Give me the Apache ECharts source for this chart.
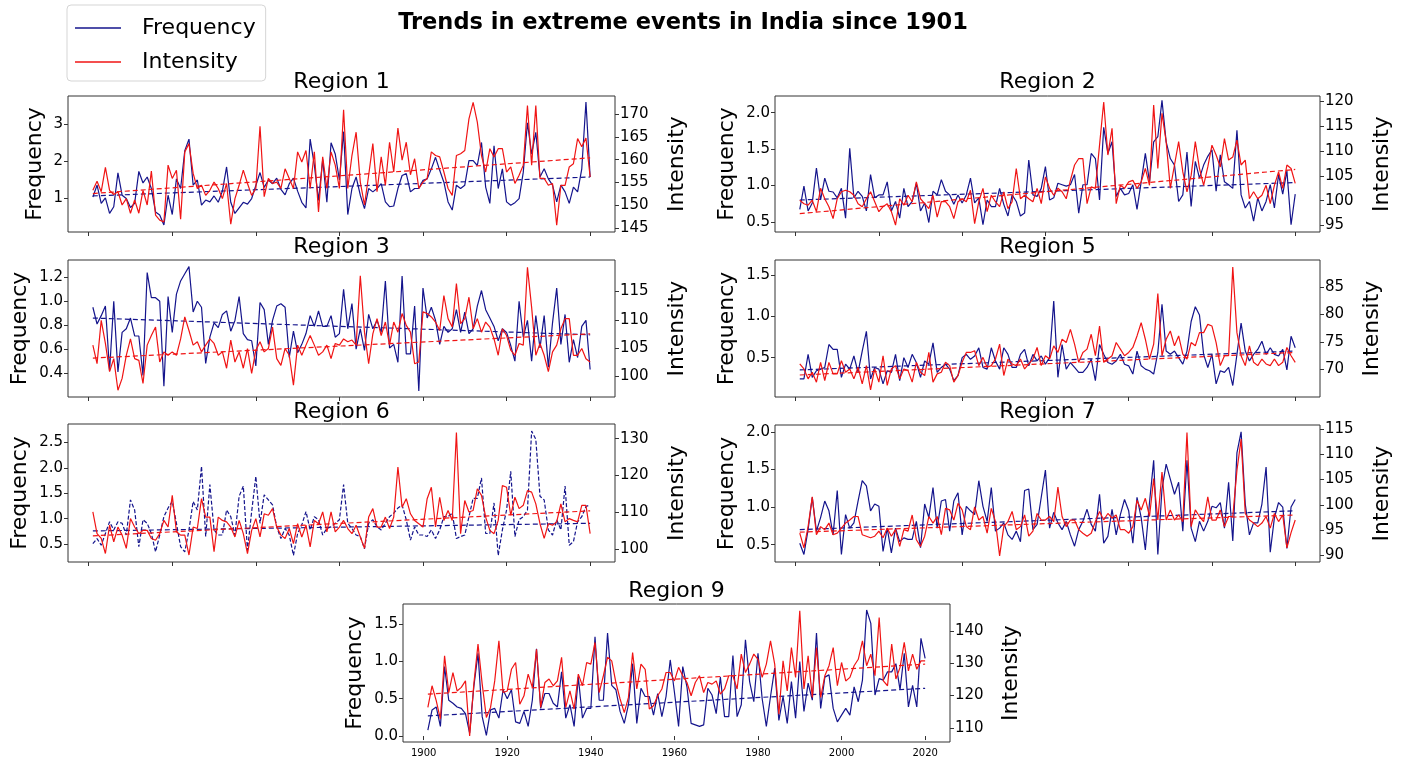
<!DOCTYPE html>
<html><head><meta charset="utf-8">
<script src="https://cdn.jsdelivr.net/npm/echarts@6/dist/echarts.min.js"></script>
<style>html,body{margin:0;padding:0;background:#fff}#c{width:1408px;height:762px}</style>
</head><body><div id="c"></div>
<script>
const FONT = 'DejaVu Sans';
const BLUE = '#14148c';
const RED = '#f01414';
const mainTitle = 'Trends in extreme events in India since 1901';
const regionNames = ['Region 1', 'Region 2', 'Region 3', 'Region 5', 'Region 6', 'Region 7', 'Region 9'];
const firstYear = 1901, lastYear = 2020;
const years = [];
for (let y = firstYear; y <= lastYear; y++) years.push(y);
const xTicks = [1900, 1920, 1940, 1960, 1980, 2000, 2020];

// ---- Region 1 ----
const r1Freq = [1.04,1.36,0.87,1.02,0.60,0.78,1.69,1.09,1.00,0.76,
0.87,1.73,1.42,1.58,1.27,0.64,0.56,0.29,1.09,0.57,
1.53,1.27,2.29,2.60,1.36,1.50,0.82,0.96,0.91,1.07,
0.90,1.20,1.85,0.90,0.60,0.75,0.90,0.85,1.00,1.35,
1.70,1.30,1.50,1.40,1.55,1.25,1.10,1.40,1.55,1.20,
0.90,0.75,2.60,1.90,0.95,2.05,0.90,2.50,2.20,1.50,
2.80,0.57,1.27,1.58,1.09,0.73,1.27,1.18,1.27,1.40,
0.91,0.78,0.80,1.27,1.62,1.67,1.18,1.27,1.27,1.49,
1.53,1.80,2.11,1.76,1.44,0.91,0.69,1.36,1.27,1.36,
2.02,2.02,1.89,2.51,1.31,0.87,2.42,1.27,1.80,0.91,
0.82,0.89,1.00,1.71,3.04,2.20,2.78,1.58,1.80,1.53,
1.36,0.91,1.36,1.18,0.87,1.31,1.18,1.80,3.60,1.58];
const r1Int = [153.3,155.3,153.0,158.3,153.3,152.4,153.0,150.1,151.5,148.3,
151.2,148.3,153.3,150.1,157.5,147.9,146.8,146.4,158.8,155.9,
157.7,147.0,161.7,163.5,157.0,153.7,154.4,152.2,153.3,155.1,
153.7,151.5,154.8,145.9,151.5,154.4,157.7,154.8,152.2,153.7,
167.3,151.9,155.9,154.8,155.1,153.7,158.0,155.9,153.7,161.7,
159.5,162.0,153.7,161.7,148.6,160.6,153.7,161.7,158.8,153.7,
170.9,153.7,160.9,166.0,155.1,150.1,156.6,163.5,153.0,160.6,
154.4,163.8,157.3,166.9,159.9,163.8,156.7,160.2,153.7,155.1,
155.9,161.7,160.9,160.6,157.3,153.7,152.2,160.9,161.3,162.0,
168.9,172.5,168.2,160.9,157.3,162.4,160.6,162.4,162.4,157.3,
158.4,154.8,156.6,158.8,171.8,158.8,171.8,155.9,155.9,154.4,
154.8,145.7,154.4,154.4,158.4,159.1,164.6,162.8,164.7,156.2];
const r1FreqTrend = [1.07, 1.58];
const r1IntTrend = [152.6, 160.4];
const r1FreqTicks = [1, 2, 3];
const r1IntTicks = [145, 150, 155, 160, 165, 170];

// ---- Region 2 ----
const r2Freq = [0.67,0.99,0.65,0.76,1.24,0.80,1.10,0.92,0.91,0.83,
0.96,0.55,1.51,0.83,0.92,0.85,0.65,1.15,0.83,0.87,
0.87,1.05,0.65,0.78,0.55,0.96,0.71,0.78,1.03,0.65,
0.76,0.49,0.92,0.87,1.08,0.92,0.87,0.74,0.87,0.76,
0.87,1.10,0.76,0.83,0.46,0.80,0.71,0.71,0.96,0.74,
0.58,0.87,0.78,0.58,0.62,1.35,0.87,0.85,0.96,1.26,
0.80,0.83,1.03,1.01,0.99,1.01,1.15,0.62,1.01,1.01,
1.44,1.37,0.80,1.80,1.44,1.60,0.85,0.96,0.87,0.89,
1.01,0.67,1.05,1.44,1.05,1.60,1.67,2.17,1.60,1.37,
1.28,0.78,0.87,1.46,0.71,1.33,1.10,1.28,1.40,1.49,
0.92,1.42,1.05,1.01,0.96,1.76,0.87,0.69,0.78,0.51,
0.83,0.65,0.78,1.01,0.69,1.15,0.88,1.20,0.46,0.88];
const r2Int = [100.1,99.4,99.1,100.1,97.8,102.5,100.4,98.8,96.4,100.4,
101.8,102.1,101.8,101.1,99.4,98.8,100.4,101.8,99.8,97.8,
98.8,99.4,97.8,95.1,100.4,99.1,101.1,99.8,103.8,100.4,
99.4,98.4,101.1,96.7,99.8,99.8,98.8,96.4,99.8,100.4,
99.8,102.1,95.4,99.8,102.5,97.8,101.1,99.8,98.8,101.8,
98.4,99.8,106.5,100.4,101.1,100.4,99.8,102.5,99.4,104.8,
102.5,101.1,102.5,101.8,100.4,104.1,107.2,108.5,108.5,99.4,
102.8,102.5,111.2,119.9,109.2,114.6,99.4,103.1,102.5,103.8,
104.1,102.5,103.8,106.5,103.1,119.3,106.5,117.6,111.9,102.5,
107.2,111.9,105.8,101.8,105.1,111.9,106.5,103.1,106.8,111.2,
109.2,106.8,112.5,108.2,108.8,112.2,107.2,108.2,100.4,101.8,
100.4,101.1,103.1,99.4,103.1,105.8,102.5,107.2,106.5,103.5];
const r2FreqTrend = [0.80, 1.04];
const r2IntTrend = [97.4, 106.3];
const r2FreqTicks = [0.5, 1.0, 1.5, 2.0];
const r2IntTicks = [95, 100, 105, 110, 115, 120];

// ---- Region 3 ----
const r3Freq = [0.95,0.81,0.88,0.96,0.42,1.00,0.41,0.74,0.77,0.86,
0.71,0.71,0.38,1.24,1.03,1.03,1.00,0.29,1.04,0.74,
1.06,1.17,1.23,1.29,0.91,1.00,0.95,0.48,0.70,0.82,
0.78,0.89,0.92,0.75,0.84,1.04,0.73,0.68,0.67,0.46,
0.99,0.93,0.64,0.84,0.96,0.98,0.95,0.53,0.75,0.57,
0.64,0.73,0.88,0.79,0.92,0.79,0.79,0.88,0.70,0.73,
1.10,0.77,0.98,0.60,0.77,0.59,0.89,0.77,0.84,0.74,
1.17,0.61,0.64,0.49,1.21,0.56,0.56,0.96,0.25,1.11,
0.86,0.95,0.84,0.64,0.79,0.74,0.77,0.93,0.74,0.91,
0.73,0.77,0.96,1.09,0.93,0.86,0.79,0.67,0.77,0.74,
0.63,0.50,1.00,0.70,0.84,0.50,0.88,0.61,0.88,0.45,
0.82,1.11,0.64,0.89,0.49,0.68,0.53,0.79,0.84,0.43];
const r3Int = [105.5,102.2,109.9,105.8,100.8,103.1,97.5,99.6,103.7,106.6,
103.1,102.8,98.7,105.5,107.2,108.7,102.5,104.3,103.7,104.3,
103.7,106.6,110.5,108.1,105.5,106.1,104.3,105.5,106.6,105.8,
103.7,104.3,101.4,106.4,102.5,104.3,101.4,104.9,100.5,104.6,
106.1,104.3,104.9,108.7,103.1,101.9,104.9,103.7,98.4,105.5,
103.7,105.5,107.2,105.5,103.7,104.3,105.5,103.1,105.8,105.5,
106.6,106.1,106.4,105.5,117.8,107.8,102.2,107.5,110.2,107.2,
109.6,105.5,109.6,107.8,111.1,109.0,107.8,102.2,102.5,111.4,
111.1,110.5,109.6,108.1,114.3,110.2,108.7,116.4,109.3,110.2,
114.0,108.4,110.2,107.8,109.6,108.7,106.6,103.7,108.4,107.2,
104.6,103.7,105.8,105.5,119.3,112.2,103.7,105.8,103.7,100.8,
104.3,105.5,108.4,110.2,110.2,103.7,103.7,104.9,103.1,102.5];
const r3FreqTrend = [0.86, 0.72];
const r3IntTrend = [103.2, 107.5];
const r3FreqTicks = [0.4, 0.6, 0.8, 1.0, 1.2];
const r3IntTicks = [100, 105, 110, 115];

// ---- Region 5 ----
const r5Freq = [0.24,0.24,0.54,0.26,0.34,0.36,0.38,0.66,0.60,0.60,
0.26,0.42,0.36,0.52,0.32,0.58,0.82,0.24,0.38,0.36,
0.18,0.34,0.32,0.54,0.22,0.50,0.38,0.54,0.44,0.26,
0.46,0.42,0.68,0.32,0.38,0.42,0.36,0.22,0.28,0.50,
0.54,0.48,0.52,0.62,0.38,0.36,0.62,0.46,0.36,0.62,
0.54,0.38,0.38,0.54,0.60,0.40,0.54,0.46,0.52,0.42,
0.50,1.19,0.26,0.66,0.36,0.44,0.38,0.32,0.32,0.38,
0.48,0.22,0.66,0.54,0.44,0.42,0.46,0.54,0.42,0.40,
0.30,0.58,0.40,0.36,0.34,0.30,0.56,1.15,0.58,0.54,
0.58,0.50,0.42,0.58,0.94,1.12,1.02,0.54,0.38,0.54,
0.18,0.34,0.32,0.38,0.16,0.54,0.92,0.58,0.46,0.54,
0.60,0.70,0.54,0.62,0.54,0.52,0.60,0.35,0.76,0.62];
const r5Int = [71.0,70.1,68.3,69.5,67.7,71.3,68.0,71.3,69.2,69.2,
71.6,69.5,70.1,68.3,70.4,67.4,70.7,66.3,70.1,67.7,
72.5,67.1,70.1,70.7,68.3,70.1,69.8,67.7,71.3,69.5,
68.9,73.1,67.7,69.2,69.5,71.3,70.7,67.7,68.9,71.3,
73.1,73.1,73.4,70.7,72.2,70.4,70.7,71.9,74.6,68.9,
71.9,71.0,70.7,71.9,70.1,71.0,71.9,74.0,70.7,72.5,
71.9,74.3,73.1,75.5,74.9,77.3,74.6,71.3,73.1,73.7,
76.4,72.5,77.9,71.3,71.9,72.5,74.9,73.7,72.5,73.1,
74.0,76.1,78.5,75.5,71.9,74.6,83.8,72.5,75.5,77.0,
74.3,76.1,72.8,71.9,74.9,74.3,76.7,76.7,78.2,77.9,
74.9,70.7,72.5,72.5,88.6,76.7,72.5,70.7,74.3,71.3,
70.7,71.9,71.0,70.7,71.9,70.7,71.3,74.0,72.5,71.3];
const r5FreqTrend = [0.35, 0.58];
const r5IntTrend = [69.0, 73.1];
const r5FreqTicks = [0.5, 1.0, 1.5];
const r5IntTicks = [70, 75, 80, 85];

// ---- Region 6 ----
const r6Freq = [0.51,0.61,0.48,0.71,0.94,0.78,0.94,0.91,0.68,1.37,
1.17,0.45,0.98,0.91,0.71,0.35,0.68,1.04,1.21,1.34,
0.91,0.45,0.35,0.78,1.34,1.17,2.03,0.65,1.67,0.78,
0.68,0.68,1.17,1.04,0.68,1.44,1.64,0.38,1.14,1.83,
0.91,1.47,1.37,1.27,0.84,0.61,0.81,0.68,0.28,0.71,
0.88,1.14,0.78,1.04,0.98,0.68,0.81,0.84,0.91,0.98,
1.67,0.91,0.81,0.68,0.65,0.41,0.91,0.98,0.84,0.78,
0.91,1.04,1.11,1.21,1.27,0.98,0.58,0.84,0.68,0.68,
0.65,0.78,0.61,0.78,1.04,1.04,1.11,0.61,0.65,0.68,
1.04,1.40,1.40,1.80,0.71,0.71,1.31,0.28,0.78,1.17,
1.93,0.65,0.98,1.04,1.17,2.72,2.56,1.44,1.37,0.78,
0.68,0.98,0.78,1.64,0.48,0.55,0.94,1.04,1.24,1.27];
const r6Int = [110.1,104.2,102.9,98.8,106.5,102.0,106.0,103.8,100.2,108.3,
106.0,104.2,105.1,105.1,102.9,102.4,104.2,107.8,106.0,114.6,
104.7,103.8,103.8,98.4,106.0,105.6,113.7,108.7,108.7,99.3,
108.7,107.8,107.4,106.0,103.3,107.8,104.2,98.8,105.1,108.3,
103.3,109.6,109.2,111.0,106.0,103.8,102.9,105.6,101.5,106.9,
103.3,106.5,100.6,107.8,106.9,110.1,104.7,110.1,104.7,106.0,
107.8,105.6,104.2,106.5,103.3,100.2,108.7,111.0,106.0,106.0,
108.7,105.6,108.7,122.3,111.4,113.7,109.6,107.8,106.9,106.0,
113.7,116.8,106.0,114.1,107.8,110.5,107.8,131.7,104.2,113.2,
110.1,110.5,116.4,114.6,108.7,105.1,104.2,107.8,117.3,116.8,
109.2,114.1,111.0,111.9,115.9,115.5,112.3,106.9,102.9,106.9,
106.5,107.4,112.3,107.4,108.3,107.8,107.4,111.9,111.9,104.2];
const r6FreqTrend = [0.76, 0.91];
const r6IntTrend = [103.6, 110.4];
const r6FreqTicks = [0.5, 1.0, 1.5, 2.0, 2.5];
const r6IntTicks = [100, 110, 120, 130];

// ---- Region 7 ----
const r7Freq = [0.52,0.37,0.70,1.13,0.68,0.86,1.08,0.95,0.63,1.22,
0.37,0.90,0.72,0.79,1.08,1.35,1.28,0.95,1.04,1.01,
0.41,0.72,0.39,0.72,0.54,0.59,0.57,0.57,0.81,0.46,
1.04,0.86,1.26,0.72,1.08,1.10,0.68,1.08,1.19,0.63,
1.01,0.95,0.90,1.35,1.01,0.81,1.26,0.68,0.72,0.79,
0.63,0.57,0.68,0.54,1.22,1.24,0.70,0.77,1.13,1.49,
0.72,0.93,0.79,0.70,0.81,0.63,0.48,0.70,0.81,0.97,
0.77,0.68,1.17,0.52,0.61,0.97,0.63,0.90,1.10,0.95,
0.52,1.13,0.86,0.43,1.06,1.62,0.37,1.24,1.57,1.37,
1.17,1.33,0.68,1.62,0.72,0.54,0.81,0.68,0.81,1.01,
0.99,1.06,0.72,1.33,0.55,1.72,2.00,1.04,0.63,0.79,
0.79,1.04,1.53,0.40,0.86,1.06,1.00,0.45,1.00,1.10];
const r7Int = [94.4,91.5,95.7,101.6,94.1,95.7,95.1,96.4,94.1,94.4,
95.4,96.4,97.0,97.7,97.7,94.1,93.8,93.5,93.8,94.8,
93.5,95.4,93.8,95.1,91.8,95.1,94.8,98.0,93.1,91.8,
93.8,97.7,96.4,97.7,94.1,99.3,99.0,97.0,100.3,99.0,
95.7,95.1,99.6,97.0,97.7,94.4,99.3,96.7,89.9,95.7,
96.7,98.7,95.1,95.7,98.0,93.8,94.8,98.3,97.0,97.0,
97.7,96.7,103.5,97.7,95.7,97.0,97.0,95.1,94.4,93.8,
94.4,96.7,98.7,97.0,98.3,97.4,98.0,95.1,95.1,94.4,
95.7,100.9,99.0,101.3,97.7,105.2,97.0,106.5,97.0,99.0,
97.0,98.0,96.7,114.3,95.7,99.0,97.7,96.7,101.6,97.0,
97.0,99.0,95.7,97.7,97.7,106.8,113.0,98.3,97.0,96.4,
95.7,96.4,97.7,95.4,98.3,96.7,98.0,91.5,94.5,97.0];
const r7FreqTrend = [0.70, 0.95];
const r7IntTrend = [94.6, 98.0];
const r7FreqTicks = [0.5, 1.0, 1.5, 2.0];
const r7IntTicks = [90, 95, 100, 105, 110, 115];

// ---- Region 9 ----
const r9Freq = [0.08,0.35,0.39,0.13,0.93,0.48,0.44,0.39,0.37,0.30,
0.04,0.66,1.11,0.26,0.01,0.35,0.37,0.24,0.62,0.50,
0.62,0.19,0.17,0.33,0.13,0.48,1.17,0.37,0.57,0.57,
0.44,0.39,0.86,0.24,0.42,0.13,0.79,0.24,0.37,0.37,
1.33,0.48,0.48,1.38,0.68,0.62,0.33,0.17,0.42,0.97,
0.17,0.64,0.53,0.53,0.28,0.57,0.26,0.53,1.02,0.59,
0.13,0.93,0.66,0.17,0.15,0.13,0.15,0.64,0.55,0.30,
0.79,0.26,0.26,1.08,0.26,0.42,1.29,0.73,0.46,1.11,
0.50,0.13,0.53,0.91,0.21,0.53,0.17,0.73,0.24,1.00,
0.33,0.71,0.48,1.38,0.37,0.79,0.82,0.37,0.19,0.28,
0.37,0.28,0.66,0.46,0.75,1.69,1.51,0.55,0.77,0.75,
0.86,0.86,0.97,0.62,1.11,0.39,0.68,0.39,1.31,1.04];
const r9Int = [116.3,123.0,118.4,112.7,132.3,120.9,127.1,121.4,122.5,124.5,
107.5,123.5,135.9,123.5,113.2,116.3,124.5,136.9,120.9,121.4,
128.1,130.2,117.3,119.9,126.6,122.5,134.3,116.3,124.0,125.1,
123.0,124.5,131.8,116.3,121.4,115.8,126.6,123.0,130.2,129.7,
136.4,120.9,126.1,131.8,130.7,124.0,118.9,114.7,119.4,133.3,
122.0,129.7,128.1,115.8,116.8,119.9,122.0,127.1,127.1,124.5,
128.7,126.1,124.0,119.9,124.0,126.1,120.9,124.0,123.5,124.5,
120.4,122.0,126.1,126.1,122.0,132.8,127.1,129.7,132.8,131.2,
125.6,129.7,136.9,129.7,114.2,130.7,121.4,134.8,125.6,146.2,
122.0,132.3,119.4,134.8,119.4,126.1,129.2,134.8,123.0,130.2,
124.5,125.6,129.2,131.2,136.9,129.2,132.8,126.1,144.1,124.5,
123.0,135.9,125.1,128.7,136.4,127.6,132.8,128.1,130.7,130.7];
const r9FreqTrend = [0.27, 0.64];
const r9IntTrend = [120.4, 129.7];
const r9FreqTicks = [0.0, 0.5, 1.0, 1.5];
const r9IntTicks = [110, 120, 130, 140];

// ---- panel definitions (data + scales) ----
const panels = [
  {freq: r1Freq, int: r1Int, fT: r1FreqTrend, iT: r1IntTrend, fTicks: r1FreqTicks, iTicks: r1IntTicks, fMin: 0.10, fMax: 3.76, iMin: 144.2, iMax: 173.9, fDec: 0, dashedBlue: false},
  {freq: r2Freq, int: r2Int, fT: r2FreqTrend, iT: r2IntTrend, fTicks: r2FreqTicks, iTicks: r2IntTicks, fMin: 0.36, fMax: 2.23, iMin: 93.7, iMax: 121.1, fDec: 1, dashedBlue: false},
  {freq: r3Freq, int: r3Int, fT: r3FreqTrend, iT: r3IntTrend, fTicks: r3FreqTicks, iTicks: r3IntTicks, fMin: 0.20, fMax: 1.345, iMin: 96.3, iMax: 120.6, fDec: 1, dashedBlue: false},
  {freq: r5Freq, int: r5Int, fT: r5FreqTrend, iT: r5IntTrend, fTicks: r5FreqTicks, iTicks: r5IntTicks, fMin: 0.02, fMax: 1.69, iMin: 65.0, iMax: 89.9, fDec: 1, dashedBlue: false},
  {freq: r6Freq, int: r6Int, fT: r6FreqTrend, iT: r6IntTrend, fTicks: r6FreqTicks, iTicks: r6IntTicks, fMin: 0.15, fMax: 2.86, iMin: 96.5, iMax: 134.0, fDec: 1, dashedBlue: true},
  {freq: r7Freq, int: r7Int, fT: r7FreqTrend, iT: r7IntTrend, fTicks: r7FreqTicks, iTicks: r7IntTicks, fMin: 0.27, fMax: 2.09, iMin: 88.7, iMax: 115.8, fDec: 1, dashedBlue: false},
  {freq: r9Freq, int: r9Int, fT: r9FreqTrend, iT: r9IntTrend, fTicks: r9FreqTicks, iTicks: r9IntTicks, fMin: -0.08, fMax: 1.77, iMin: 105.6, iMax: 148.3, fDec: 1, dashedBlue: false}
];

// ---- layout (positions only) ----
const layout = [
  {left: 68,  top: 96,  width: 547, height: 136, titleTop: 71,  fGap: 22, iGap: 51},
  {left: 775, top: 96,  width: 545, height: 136, titleTop: 71,  fGap: 37, iGap: 51},
  {left: 68,  top: 260, width: 547, height: 137, titleTop: 236, fGap: 37, iGap: 51},
  {left: 775, top: 260, width: 545, height: 137, titleTop: 236, fGap: 37, iGap: 41},
  {left: 68,  top: 424, width: 547, height: 138, titleTop: 401, fGap: 37, iGap: 51},
  {left: 775, top: 425, width: 545, height: 137, titleTop: 401, fGap: 37, iGap: 51},
  {left: 403, top: 604, width: 547, height: 138, titleTop: 580, fGap: 37, iGap: 50}
];

const ctx = document.createElement('canvas').getContext('2d');
function textWidth(t, size, weight) {
  ctx.font = (weight || 'normal') + ' ' + size + 'px "' + FONT + '"';
  return ctx.measureText(t).width;
}

const titles = [];
const mainSize = 22.5;
titles.push({text: mainTitle, left: 683 - textWidth(mainTitle, mainSize, 'bold') / 2, top: 12, padding: 0,
  textStyle: {fontSize: mainSize, fontWeight: 'bold', fontFamily: FONT, color: '#000'}});

const grids = [], xAxes = [], yAxes = [], series = [];
panels.forEach((p, k) => {
  const L = layout[k];
  grids.push({left: L.left, top: L.top, width: L.width, height: L.height, show: true,
    borderColor: '#333', borderWidth: 1, backgroundColor: 'transparent', containLabel: false});
  const cx = L.left + L.width / 2;
  titles.push({text: regionNames[k], left: cx - textWidth(regionNames[k], 22) / 2, top: L.titleTop, padding: 0,
    textStyle: {fontSize: 22, fontWeight: 'normal', fontFamily: FONT, color: '#000'}});
  const isLast = k === panels.length - 1;
  xAxes.push({type: 'value', gridIndex: k, min: 1895.05, max: 2025.95,
    axisLine: {show: false}, splitLine: {show: false},
    axisTick: {show: true, length: 4, customValues: xTicks, lineStyle: {color: '#333'}},
    axisLabel: {show: isLast, customValues: xTicks, fontSize: 10, fontFamily: FONT, color: '#000', margin: 6,
      formatter: v => String(Math.round(v))}});
  yAxes.push({type: 'value', gridIndex: k, position: 'left', min: p.fMin, max: p.fMax,
    axisLine: {show: false}, splitLine: {show: false},
    axisTick: {show: true, length: 4, customValues: p.fTicks, lineStyle: {color: '#333'}},
    axisLabel: {customValues: p.fTicks, fontSize: 15, fontFamily: FONT, color: '#000', margin: 5,
      formatter: v => Number(v).toFixed(p.fDec)},
    name: 'Frequency', nameLocation: 'middle', nameRotate: 90, nameGap: L.fGap,
    nameTextStyle: {fontSize: 22, fontFamily: FONT, color: '#000'}});
  yAxes.push({type: 'value', gridIndex: k, position: 'right', min: p.iMin, max: p.iMax,
    axisLine: {show: false}, splitLine: {show: false},
    axisTick: {show: true, length: 4, customValues: p.iTicks, lineStyle: {color: '#333'}},
    axisLabel: {customValues: p.iTicks, fontSize: 15, fontFamily: FONT, color: '#000', margin: 5,
      formatter: v => String(Math.round(v))},
    name: 'Intensity', nameLocation: 'middle', nameRotate: 90, nameGap: L.iGap,
    nameTextStyle: {fontSize: 22, fontFamily: FONT, color: '#000'}});
  const common = {type: 'line', xAxisIndex: k, showSymbol: false, symbol: 'none', silent: true,
    animation: false, emphasis: {disabled: true}};
  series.push(Object.assign({}, common, {name: 'Frequency', yAxisIndex: 2 * k,
    data: years.map((y, i) => [y, p.freq[i]]), itemStyle: {color: BLUE},
    lineStyle: {color: BLUE, width: 1.2, type: p.dashedBlue ? [4, 2] : 'solid'}, z: 2}));
  series.push(Object.assign({}, common, {name: 'Frequency trend', yAxisIndex: 2 * k,
    data: [[firstYear, p.fT[0]], [lastYear, p.fT[1]]], itemStyle: {color: BLUE},
    lineStyle: {color: BLUE, width: 1.2, type: [5, 3]}, z: 3}));
  series.push(Object.assign({}, common, {name: 'Intensity', yAxisIndex: 2 * k + 1,
    data: years.map((y, i) => [y, p.int[i]]), itemStyle: {color: RED},
    lineStyle: {color: RED, width: 1.2}, z: 4}));
  series.push(Object.assign({}, common, {name: 'Intensity trend', yAxisIndex: 2 * k + 1,
    data: [[firstYear, p.iT[0]], [lastYear, p.iT[1]]], itemStyle: {color: RED},
    lineStyle: {color: RED, width: 1.2, type: [5, 3]}, z: 5}));
});

const chart = echarts.init(document.getElementById('c'), null, {renderer: 'canvas'});
chart.setOption({
  animation: false,
  backgroundColor: '#fff',
  title: titles,
  legend: {data: ['Frequency', 'Intensity'], orient: 'vertical', left: 67, top: 5,
    icon: 'rect', itemWidth: 46, itemHeight: 1.5, itemGap: 12, padding: [12, 10, 8, 8],
    borderColor: '#d5d5d5', borderWidth: 1, borderRadius: 4, selectedMode: false,
    textStyle: {fontSize: 22, fontFamily: FONT, color: '#000', padding: [0, 0, 0, 16]}},
  grid: grids,
  xAxis: xAxes,
  yAxis: yAxes,
  series: series
});
</script></body></html>
